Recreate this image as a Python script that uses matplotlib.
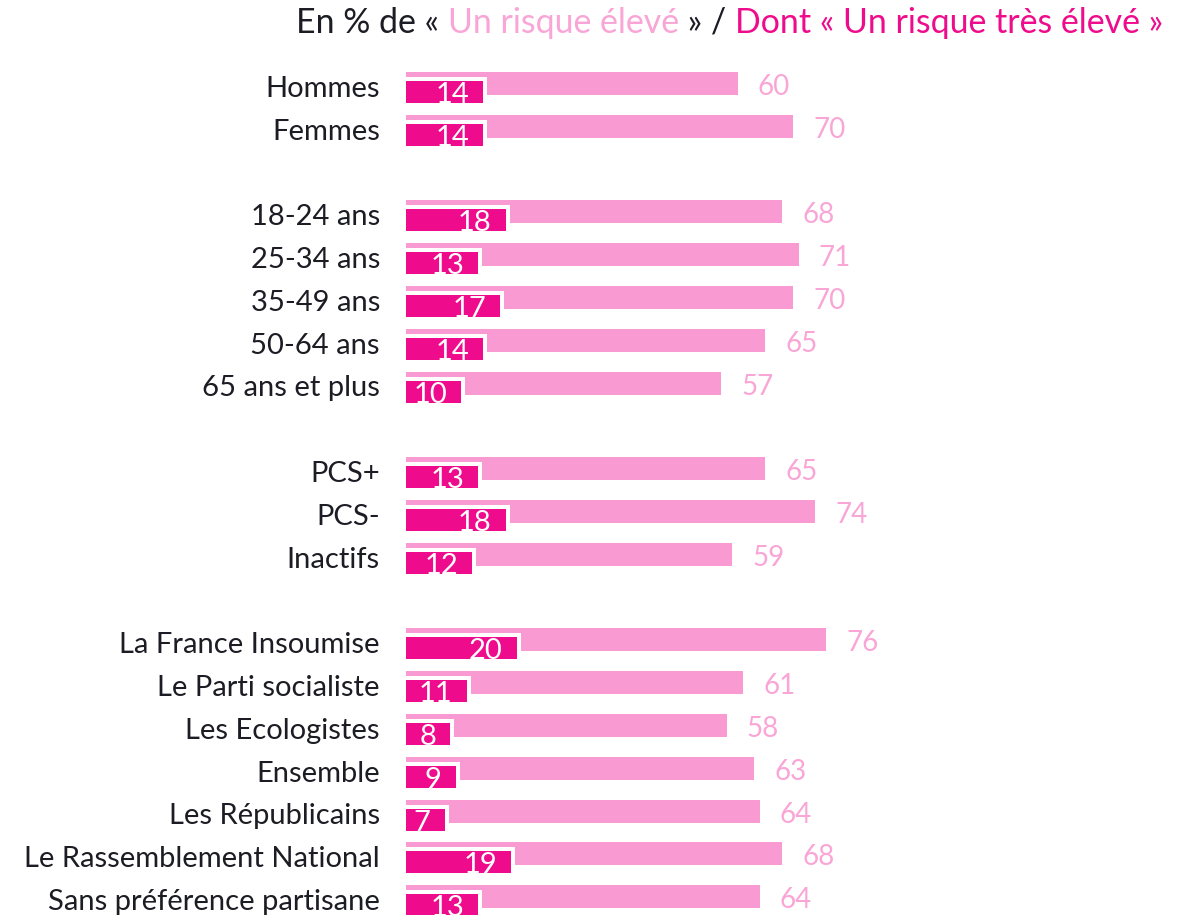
import matplotlib.pyplot as plt

labels = ["Hommes", "Femmes",
          "18-24 ans", "25-34 ans", "35-49 ans", "50-64 ans", "65 ans et plus",
          "PCS+", "PCS-", "Inactifs",
          "La France Insoumise", "Le Parti socialiste", "Les Ecologistes", "Ensemble",
          "Les Républicains", "Le Rassemblement National", "Sans préférence partisane"]
eleve = [60, 70, 68, 71, 70, 65, 57, 65, 74, 59, 76, 61, 58, 63, 64, 68, 64]
tres_eleve = [14, 14, 18, 13, 17, 14, 10, 13, 18, 12, 20, 11, 8, 9, 7, 19, 13]
# row index of each bar, blank rows between groups
rows = [0, 1, 3, 4, 5, 6, 7, 9, 10, 11, 13, 14, 15, 16, 17, 18, 19]

light = "#F99AD2"
dark = "#EE0C8D"
light_txt = "#F9A6D6"
txt = "#1C1C24"
font = "Lato"

W, H = 1193, 915
fig = plt.figure(figsize=(W / 100, H / 100), dpi=100)
ax = fig.add_axes([406 / W, 0, 1 - 406 / W, 1])
px = 1 / 5.53   # x data units per pixel
py = 1 / 42.8   # y data units per pixel
ax.set_xlim(0, (W - 406) * px)
ax.set_ylim((H - 83.5) * py, -83.5 * py)
ax.axis("off")

ax.barh(rows, eleve, height=23 * py, color=light)
ax.barh([r + 6.5 * py for r in rows], [v + 4 * px for v in tres_eleve],
        height=26 * py, color="white")
dark_bars = ax.barh([r + 8.5 * py for r in rows], tres_eleve, height=22 * py, color=dark)

for r, lbl, v, d, patch in zip(rows, labels, eleve, tres_eleve, dark_bars):
    ax.text(-26 * px, r + 13.3 * py, lbl, ha="right", va="baseline", fontsize=21,
            color=txt, family=font, clip_on=False)
    ax.text(v + 20 * px, r + 11.5 * py, str(v), ha="left", va="baseline", fontsize=20,
            color=light_txt, family=font)
    t = ax.text(d - 14 * px, r + 19.5 * py, str(d), ha="right", va="baseline",
                fontsize=21, color="white", family=font)
    t.set_clip_path(patch)

# title in coloured pieces, sized to span the same width as the original
pieces = [("En % de « ", txt), ("Un risque élevé", light_txt), (" » / ", txt),
          ("Dont « Un risque très élevé »", dark)]
renderer = fig.canvas.get_renderer()
probe = fig.text(0, 0, "".join(s for s, c in pieces), fontsize=20, family=font)
size = 20 * (1165 - 296) / probe.get_window_extent(renderer).width
probe.remove()
x = 296
for s, c in pieces:
    t = fig.text(x / W, 1 - 33 / H, s, color=c, fontsize=size, family=font,
                 ha="left", va="baseline")
    x = t.get_window_extent(renderer).x1

fig.savefig("out.png", dpi=100)
